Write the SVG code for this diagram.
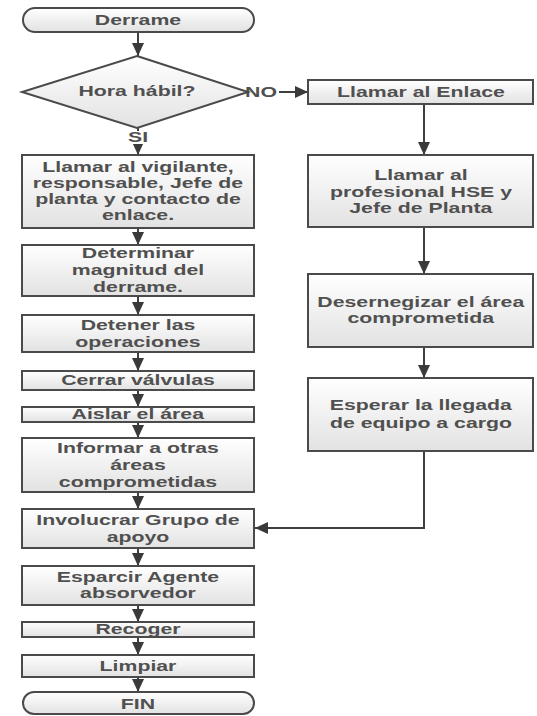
<svg xmlns="http://www.w3.org/2000/svg" width="537" height="716" viewBox="0 0 537 716">
<defs>
<linearGradient id="g" x1="0" y1="0" x2="0" y2="1">
<stop offset="0" stop-color="#ffffff"/>
<stop offset="1" stop-color="#e2e2e2"/>
</linearGradient>
<marker id="ah" markerUnits="userSpaceOnUse" markerWidth="14" markerHeight="12" refX="13" refY="6" orient="auto">
<path d="M0,0 L13,6 L0,12 Z" fill="#3a3a3a"/>
</marker>
<style>
.n{fill:url(#g);stroke:#4a4a4a;stroke-width:2}
.t{font-family:"Liberation Sans",Arial,sans-serif;font-size:14px;font-weight:bold;fill:#505050;text-anchor:middle;transform-box:fill-box;transform-origin:center;transform:scaleX(1.52)}
.c{fill:none;stroke:#3f3f3f;stroke-width:2;marker-end:url(#ah)}
</style>
</defs>
<rect width="537" height="716" fill="#ffffff"/>
<g id="connectors">
<line class="c" x1="138" y1="32" x2="138" y2="56"/>
<line class="c" x1="138" y1="128" x2="138" y2="155"/>
<line class="c" x1="138" y1="228" x2="138" y2="245"/>
<line class="c" x1="138" y1="296" x2="138" y2="315"/>
<line class="c" x1="138" y1="352" x2="138" y2="371"/>
<line class="c" x1="138" y1="390" x2="138" y2="407"/>
<line class="c" x1="138" y1="422" x2="138" y2="438"/>
<line class="c" x1="138" y1="492" x2="138" y2="509"/>
<line class="c" x1="138" y1="548" x2="138" y2="566"/>
<line class="c" x1="138" y1="605" x2="138" y2="622"/>
<line class="c" x1="138" y1="637" x2="138" y2="655"/>
<line class="c" x1="138" y1="677" x2="138" y2="692"/>
<line class="c" x1="248" y1="92" x2="308" y2="92"/>
<line class="c" x1="424" y1="104" x2="424" y2="155"/>
<line class="c" x1="424" y1="227" x2="424" y2="274"/>
<line class="c" x1="424" y1="347" x2="424" y2="378"/>
<polyline class="c" points="424,451 424,528 255,528"/>
<rect x="245" y="84" width="34" height="15" fill="#ffffff"/>
<text class="t" x="261" y="97">NO</text>
<rect x="127" y="131" width="22" height="13" fill="#ffffff"/>
<text class="t" x="138" y="142">SI</text>
</g>
<g id="derrame"><rect class="n" x="23" y="8" width="231" height="24" rx="12"/><text class="t" x="138" y="25">Derrame</text></g>
<g id="hora"><polygon class="n" points="137,56 248,92 137,128 22,92"/><text class="t" x="137" y="96">Hora hábil?</text></g>
<g id="enlace"><rect class="n" x="308" y="80" width="225" height="24"/><text class="t" x="421" y="97">Llamar al Enlace</text></g>
<g id="hse"><rect class="n" x="308" y="155" width="225" height="72"/><text class="t" x="421" y="180">Llamar  al</text><text class="t" x="421" y="197">profesional HSE y</text><text class="t" x="421" y="213">Jefe de Planta</text></g>
<g id="desenergizar"><rect class="n" x="308" y="274" width="225" height="73"/><text class="t" x="421" y="307">Desernegizar el área</text><text class="t" x="421" y="323">comprometida</text></g>
<g id="esperar"><rect class="n" x="308" y="378" width="225" height="73"/><text class="t" x="421" y="410">Esperar la llegada</text><text class="t" x="421" y="428">de equipo  a cargo</text></g>
<g id="llamar"><rect class="n" x="22" y="155" width="232" height="73"/><text class="t" x="138" y="172">Llamar al vigilante,</text><text class="t" x="138" y="188">responsable, Jefe de</text><text class="t" x="138" y="204">planta y contacto de</text><text class="t" x="138" y="220">enlace.</text></g>
<g id="determinar"><rect class="n" x="22" y="245" width="232" height="51"/><text class="t" x="138" y="258">Determinar</text><text class="t" x="138" y="275">magnitud del</text><text class="t" x="138" y="292">derrame.</text></g>
<g id="detener"><rect class="n" x="22" y="315" width="232" height="37"/><text class="t" x="138" y="330">Detener las</text><text class="t" x="138" y="347">operaciones</text></g>
<g id="cerrar"><rect class="n" x="22" y="371" width="232" height="19"/><text class="t" x="138" y="385">Cerrar válvulas</text></g>
<g id="aislar"><rect class="n" x="22" y="407" width="232" height="15"/><text class="t" x="138" y="419">Aislar el área</text></g>
<g id="informar"><rect class="n" x="22" y="438" width="232" height="54"/><text class="t" x="138" y="453">Informar a otras</text><text class="t" x="138" y="470">áreas</text><text class="t" x="138" y="487">comprometidas</text></g>
<g id="involucrar"><rect class="n" x="22" y="509" width="232" height="39"/><text class="t" x="138" y="525">Involucrar Grupo de</text><text class="t" x="138" y="542">apoyo</text></g>
<g id="esparcir"><rect class="n" x="22" y="566" width="232" height="39"/><text class="t" x="138" y="582">Esparcir Agente</text><text class="t" x="138" y="598">absorvedor</text></g>
<g id="recoger"><rect class="n" x="22" y="622" width="232" height="15"/><text class="t" x="138" y="634">Recoger</text></g>
<g id="limpiar"><rect class="n" x="22" y="655" width="232" height="22"/><text class="t" x="138" y="671">Limpiar</text></g>
<g id="fin"><rect class="n" x="23" y="692" width="231" height="22" rx="11"/><text class="t" x="138" y="709">FIN</text></g>
</svg>
